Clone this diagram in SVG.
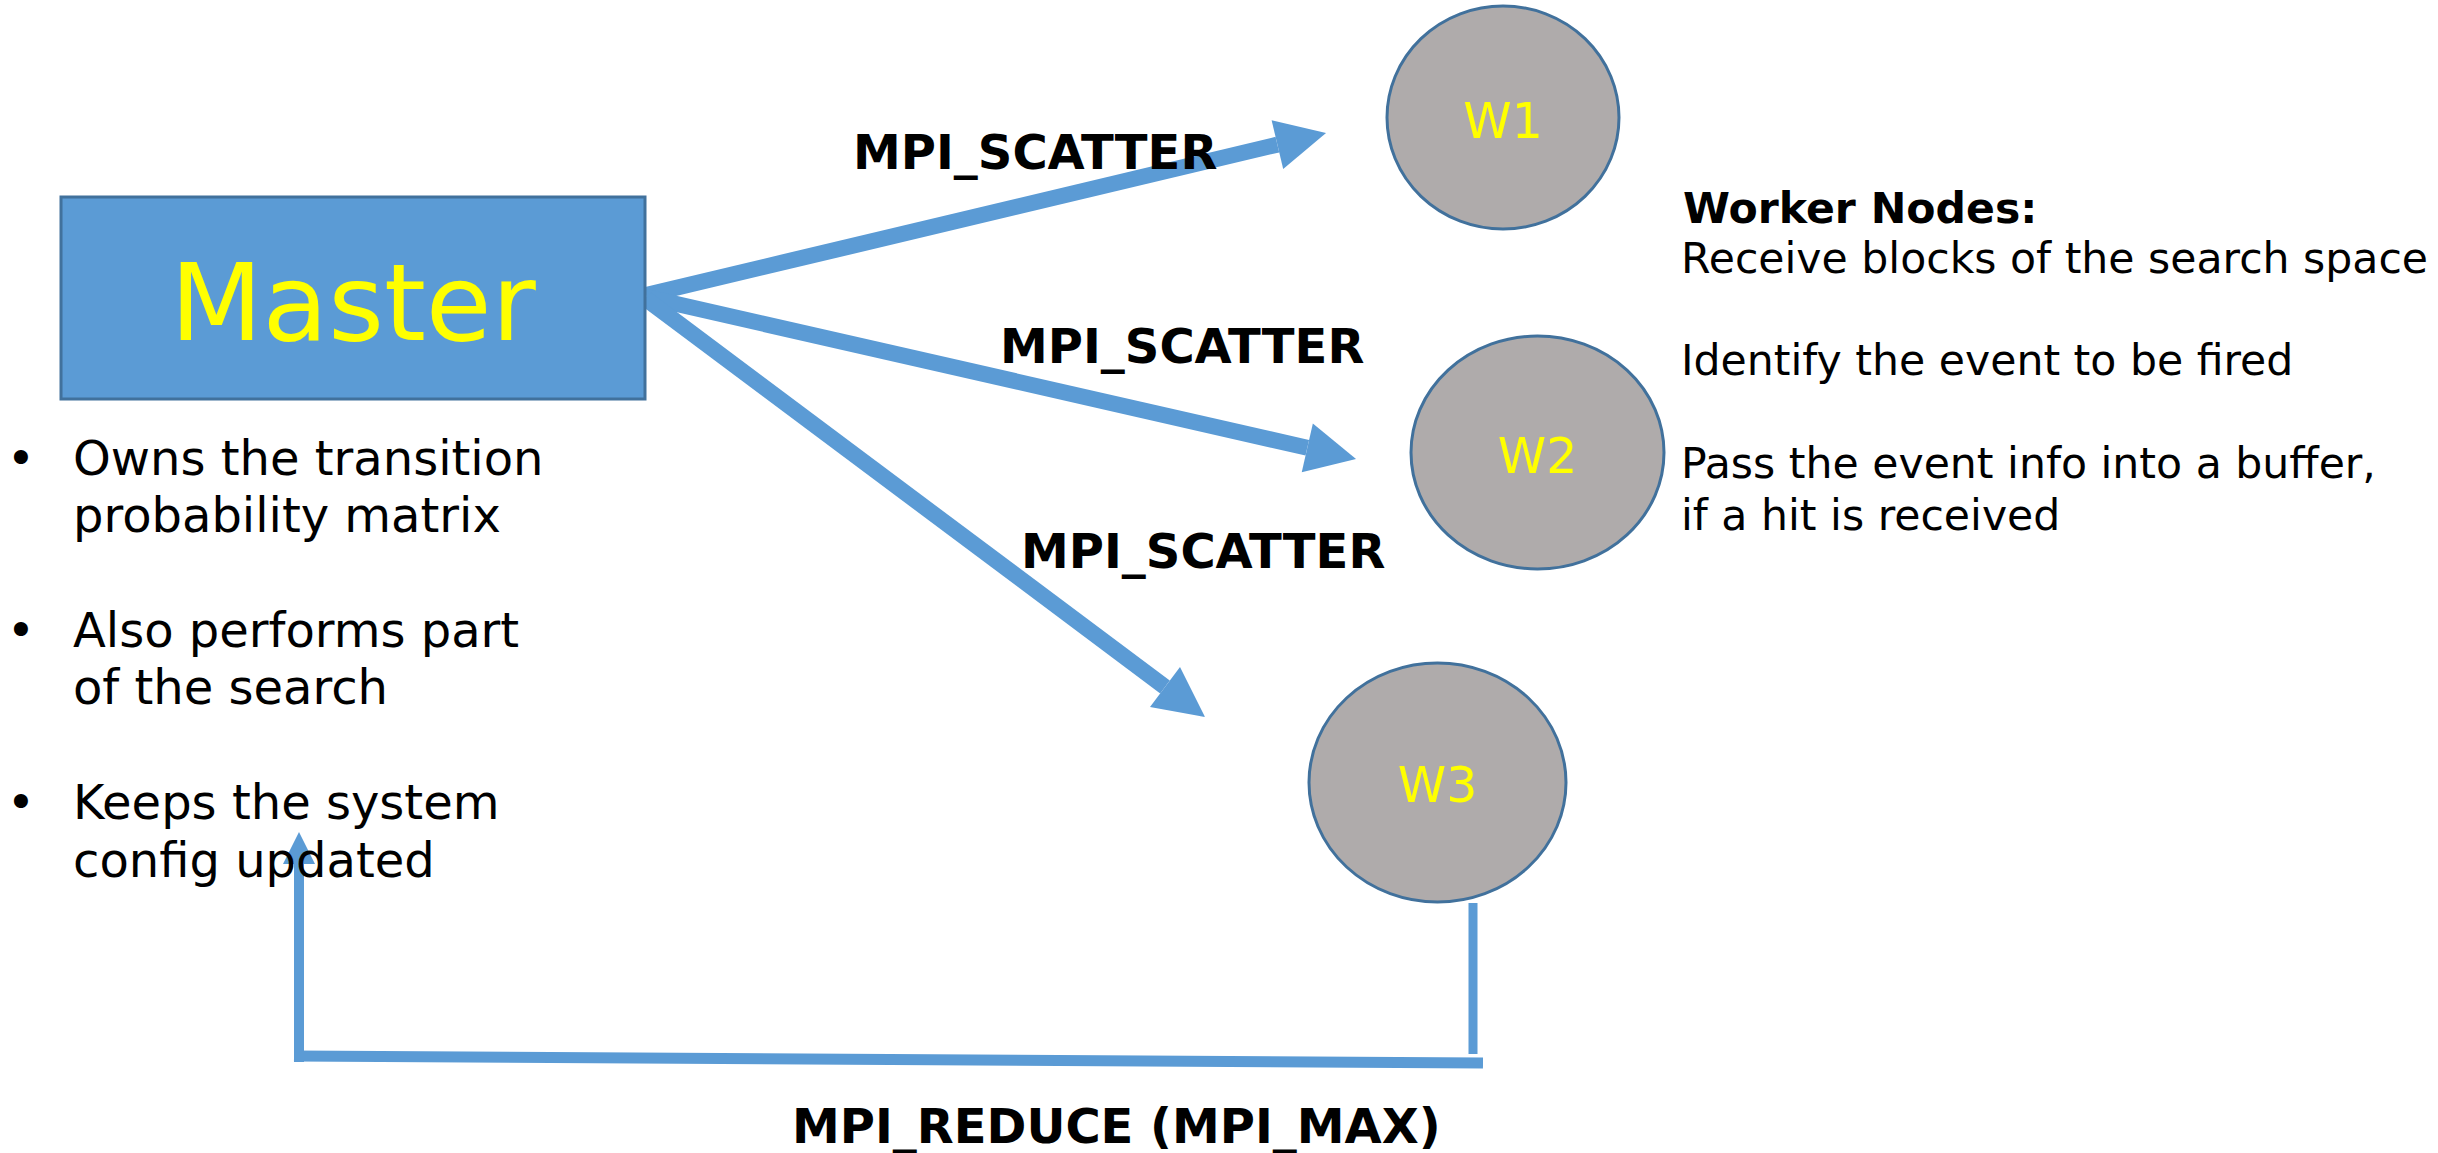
<svg xmlns="http://www.w3.org/2000/svg" width="2438" height="1153" viewBox="0 0 2438 1153">
<style>
  .conn { stroke: #5B9BD5; fill: none; stroke-linecap: butt; }
  .worker { fill: #AFABAB; stroke: #41719C; stroke-width: 3; }
  .wlabel { font-family: "DejaVu Sans", sans-serif; font-size: 49px; fill: #FFFF00; text-anchor: middle; }
  .lbl { font-family: "DejaVu Sans", sans-serif; font-weight: bold; font-size: 48px; fill: #000000; }
  .bul { font-family: "DejaVu Sans", sans-serif; font-size: 48px; fill: #000000; }
  .wtxt { font-family: "DejaVu Sans", sans-serif; font-size: 42.6px; fill: #000000; }
</style>
<defs>
  <marker id="head" markerUnits="userSpaceOnUse" markerWidth="50" markerHeight="50" viewBox="0 0 50 50" refX="0" refY="25" orient="auto" overflow="visible">
    <path d="M0,0 L50,25 L0,50 z" fill="#5B9BD5"/>
  </marker>
</defs>
<rect width="2438" height="1153" fill="#FFFFFF"/>

<g id="connectors">
  <line class="conn" x1="646" y1="295" x2="1277.4" y2="144.6" stroke-width="16" marker-end="url(#head)"/>
  <line class="conn" x1="646" y1="297" x2="1307.3" y2="447.8" stroke-width="16" marker-end="url(#head)"/>
  <line class="conn" x1="646" y1="299" x2="1165" y2="687" stroke-width="16" marker-end="url(#head)"/>
  <line class="conn" x1="1473" y1="903" x2="1473" y2="1054" stroke-width="9"/>
  <line class="conn" x1="1483" y1="1063" x2="294" y2="1056" stroke-width="11"/>
  <line class="conn" x1="299" y1="1062" x2="299" y2="862" stroke-width="10"/>
  <polygon points="299,832 283,864 315,864" fill="#5B9BD5"/>
  <text class="lbl" x="853" y="169">MPI_SCATTER</text>
  <text class="lbl" x="1000" y="363">MPI_SCATTER</text>
  <text class="lbl" x="1021" y="568">MPI_SCATTER</text>
  <text class="lbl" x="792" y="1143">MPI_REDUCE (MPI_MAX)</text>
</g>

<g id="master">
  <rect x="61" y="197" width="584" height="202" fill="#5B9BD5" stroke="#41719C" stroke-width="3"/>
  <text x="353" y="340" font-family="DejaVu Sans, sans-serif" font-size="107" fill="#FFFF00" text-anchor="middle">Master</text>
</g>

<g id="master-notes">
  <text class="bul" x="21" y="475" text-anchor="middle">•</text>
  <text class="bul" x="73" y="475">Owns the transition</text>
  <text class="bul" x="73" y="532">probability matrix</text>
  <text class="bul" x="21" y="647" text-anchor="middle">•</text>
  <text class="bul" x="73" y="647">Also performs part</text>
  <text class="bul" x="73" y="704">of the search</text>
  <text class="bul" x="21" y="819" text-anchor="middle">•</text>
  <text class="bul" x="73" y="819">Keeps the system</text>
  <text class="bul" x="73" y="877">config updated</text>
</g>

<g id="w1">
  <ellipse class="worker" cx="1503" cy="117.5" rx="116" ry="111.5"/>
  <text class="wlabel" x="1503" y="138">W1</text>
</g>
<g id="w2">
  <ellipse class="worker" cx="1537.5" cy="452.5" rx="126.5" ry="116.5"/>
  <text class="wlabel" x="1537.5" y="473">W2</text>
</g>
<g id="w3">
  <ellipse class="worker" cx="1437.5" cy="782.5" rx="128.5" ry="119.5"/>
  <text class="wlabel" x="1437.5" y="802">W3</text>
</g>

<g id="worker-notes">
  <text class="wtxt" x="1683" y="223" font-weight="bold">Worker Nodes:</text>
  <text class="wtxt" x="1681" y="273">Receive blocks of the search space</text>
  <text class="wtxt" x="1681" y="375">Identify the event to be fired</text>
  <text class="wtxt" x="1681" y="478">Pass the event info into a buffer,</text>
  <text class="wtxt" x="1681" y="530">if a hit is received</text>
</g>
</svg>
